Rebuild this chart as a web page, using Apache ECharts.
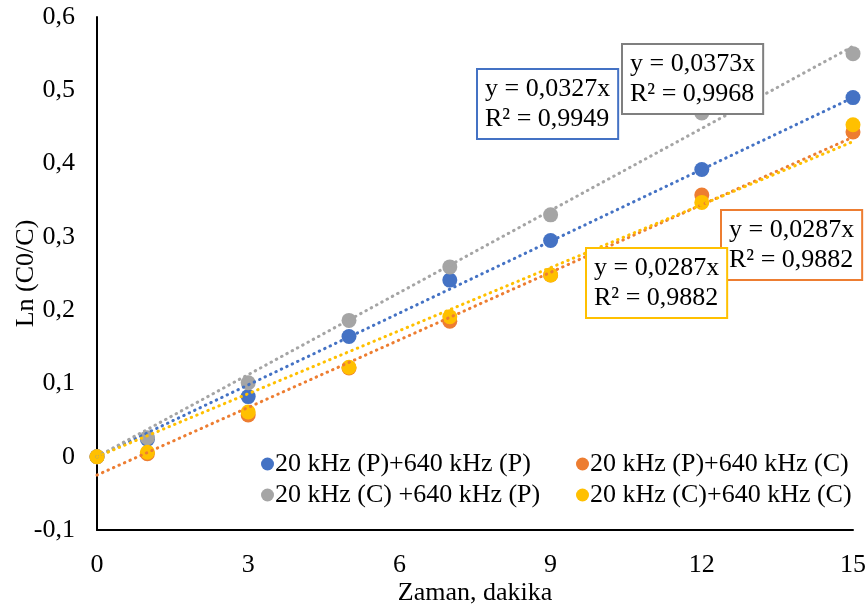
<!DOCTYPE html>
<html>
<head>
<meta charset="utf-8">
<script src="https://cdn.jsdelivr.net/npm/echarts@6/dist/echarts.min.js"></script>
<style>html,body{margin:0;padding:0;background:#fff}#c{width:868px;height:612px}</style>
</head>
<body>
<div id="c"></div>
<script>
var xValues = [0, 1, 3, 5, 7, 9, 12, 15];
var seriesNames = ['20 kHz (P)+640 kHz (P)', '20 kHz (P)+640 kHz (C)', '20 kHz (C) +640 kHz (P)', '20 kHz (C)+640 kHz (C)'];
var bluePP   = [0, 0.024, 0.082, 0.164, 0.241, 0.295, 0.392, 0.490];
var orangePC = [0, 0.004, 0.057, 0.121, 0.185, 0.248, 0.357, 0.443];
var grayCP   = [0, 0.026, 0.101, 0.186, 0.259, 0.330, 0.469, 0.550];
var yellowCC = [0, 0.006, 0.061, 0.122, 0.191, 0.248, 0.347, 0.453];
var trendX = [0, 15];
var trendBlue   = [0, 0.490];
var trendOrange = [-0.025, 0.436];
var trendGray   = [0, 0.560];
var trendYellow = [0, 0.430];
var eqTexts = ['y = 0,0327x\nR² = 0,9949', 'y = 0,0287x\nR² = 0,9882', 'y = 0,0373x\nR² = 0,9968', 'y = 0,0287x\nR² = 0,9882'];
var yTicks = [-0.1, 0, 0.1, 0.2, 0.3, 0.4, 0.5, 0.6];
var xTicks = [0, 3, 6, 9, 12, 15];

var colors = ['#4472C4', '#ED7D31', '#A5A5A5', '#FFC000'];
var values = [bluePP, orangePC, grayCP, yellowCC];
var trends = [trendBlue, trendOrange, trendGray, trendYellow];
var FONT = '"Liberation Serif", "Times New Roman", serif';
var FS = 26;

function pairs(xs, ys) { return xs.map(function (x, i) { return [x, ys[i]]; }); }

var series = [];
values.forEach(function (v, i) {
  series.push({
    name: seriesNames[i], type: 'scatter', data: pairs(xValues, v),
    symbol: 'circle', symbolSize: 15, itemStyle: { color: colors[i], opacity: 1 }, z: 2 + i
  });
});
trends.forEach(function (t, i) {
  series.push({
    name: 'trend' + i, type: 'line', data: pairs(trendX, t), showSymbol: false, symbol: 'none',
    lineStyle: { color: colors[i], width: 3, type: [0.5, 5.5], cap: 'round' }, z: 10 + i, silent: true
  });
});

function legendAt(name, left, top) {
  return {
    data: [{ name: name, icon: 'circle' }], left: left, top: top, itemWidth: 13, itemHeight: 13, itemGap: 2,
    textStyle: { fontFamily: FONT, fontSize: FS, color: '#000', padding: [0, 0, 0, -4] }
  };
}

var boxStyle = function (text, color, x, y) {
  return {
    type: 'text', left: x, top: y, z: 100,
    style: {
      text: text, font: FS + 'px ' + FONT, fill: '#000', lineHeight: 30,
      backgroundColor: '#fff', borderColor: color, borderWidth: 2, padding: [4, 7, 4, 7]
    }
  };
};

var chart = echarts.init(document.getElementById('c'));
chart.setOption({
  animation: false,
  backgroundColor: '#fff',
  grid: { left: 97, right: 15, top: 17, bottom: 82, containLabel: false, outerBoundsMode: 'none' },
  xAxis: {
    type: 'value', min: 0, max: 15, interval: 3,
    name: 'Zaman, dakika', nameLocation: 'middle', nameGap: 50, nameMoveOverlap: false,
    nameTextStyle: { fontFamily: FONT, fontSize: FS, color: '#000' },
    axisLine: { onZero: false, lineStyle: { color: '#000', width: 2 } },
    axisTick: { show: false }, splitLine: { show: false },
    axisLabel: { fontFamily: FONT, fontSize: FS, color: '#000', margin: 22, hideOverlap: false,
      formatter: function (v) { return xTicks.indexOf(v) >= 0 ? String(v) : ''; } }
  },
  yAxis: {
    type: 'value', min: -0.1, max: 0.6, interval: 0.1,
    name: 'Ln (C0/C)', nameLocation: 'middle', nameGap: 58, nameRotate: 90, nameMoveOverlap: false,
    nameTextStyle: { fontFamily: FONT, fontSize: FS, color: '#000' },
    axisLine: { show: true, lineStyle: { color: '#000', width: 2 } },
    axisTick: { show: false }, splitLine: { show: false },
    axisLabel: { fontFamily: FONT, fontSize: FS, color: '#000', margin: 22,
      formatter: function (v) {
        var r = Math.round(v * 10) / 10;
        if (r === 0) return '0';
        return r.toFixed(1).replace('.', ',');
      } }
  },
  legend: [
    legendAt(seriesNames[0], 256, 446),
    legendAt(seriesNames[1], 571, 446),
    legendAt(seriesNames[2], 256, 477),
    legendAt(seriesNames[3], 571, 477)
  ],
  graphic: [
    boxStyle(eqTexts[0], colors[0], 476, 68),
    boxStyle(eqTexts[2], '#7F7F7F', 621, 43),
    boxStyle(eqTexts[1], colors[1], 720, 209),
    boxStyle(eqTexts[3], colors[3], 585, 247)
  ],
  series: series
});
</script>
</body>
</html>
